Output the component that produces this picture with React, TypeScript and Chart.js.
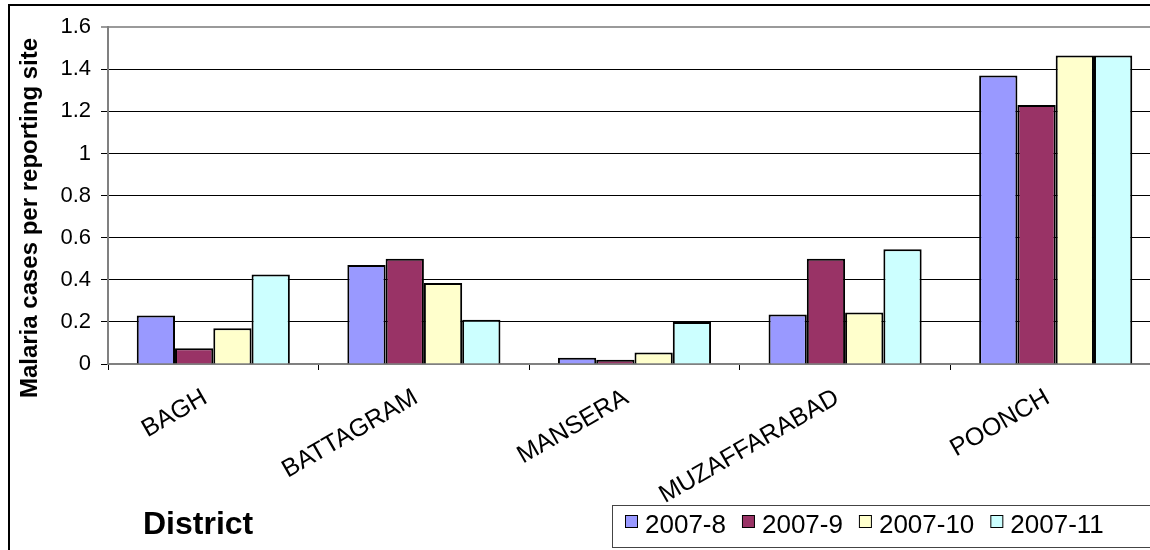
import React, { useEffect, useRef } from "react";
import { Chart, registerables } from "chart.js";

Chart.register(...registerables);

const districts = ["BAGH", "BATTAGRAM", "MANSERA", "MUZAFFARABAD", "POONCH"];
const periods = ["2007-8", "2007-9", "2007-10", "2007-11"];
const values2007_8 = [0.23, 0.47, 0.03, 0.235, 1.37];
const values2007_9 = [0.075, 0.5, 0.02, 0.5, 1.23];
const values2007_10 = [0.17, 0.385, 0.055, 0.245, 1.465];
const values2007_11 = [0.425, 0.21, 0.2, 0.545, 1.465];
const seriesValues = [values2007_8, values2007_9, values2007_10, values2007_11];
const seriesColors = ["#9999FF", "#993366", "#FFFFCC", "#CCFFFF"];
const yMin = 0;
const yMax = 1.6;
const yStep = 0.2;
const yTitle = "Malaria cases per reporting site";
const xTitle = "District";

const FONT = '"Liberation Sans", Arial, sans-serif';

const decorPlugin = {
  id: "decor",
  afterDraw(chart: any) {
    const ctx = chart.ctx as CanvasRenderingContext2D;
    ctx.save();
    // outer chart border
    ctx.strokeStyle = "#000";
    ctx.lineWidth = 2;
    ctx.strokeRect(1, 1, chart.width + 20, chart.height + 20);

    // y-axis title
    ctx.save();
    ctx.fillStyle = "#000";
    ctx.font = `bold 24px ${FONT}`;
    ctx.translate(29, 214);
    ctx.rotate(-Math.PI / 2);
    ctx.textAlign = "center";
    ctx.textBaseline = "alphabetic";
    ctx.fillText(yTitle, 0, 0);
    ctx.restore();

    // x-axis title
    ctx.fillStyle = "#000";
    ctx.font = `bold 32px ${FONT}`;
    ctx.textAlign = "left";
    ctx.textBaseline = "alphabetic";
    ctx.fillText(xTitle, 135, 530);

    // legend box
    ctx.strokeStyle = "#444";
    ctx.lineWidth = 1;
    ctx.fillStyle = "#fff";
    ctx.fillRect(604.5, 501.5, 600, 42);
    ctx.strokeRect(604.5, 501.5, 600, 42);

    ctx.font = `26px ${FONT}`;
    let x = 617;
    chart.data.datasets.forEach((ds: any) => {
      ctx.fillStyle = ds.backgroundColor;
      ctx.fillRect(x + 0.5, 511.5, 12, 12);
      ctx.strokeStyle = "#000";
      ctx.lineWidth = 1;
      ctx.strokeRect(x + 0.5, 511.5, 12, 12);
      ctx.fillStyle = "#000";
      ctx.fillText(ds.label, x + 20, 529);
      x += 20 + ctx.measureText(ds.label).width + 16;
    });
    ctx.restore();
  },
};

export default function App() {
  const canvasRef = useRef<HTMLCanvasElement | null>(null);

  useEffect(() => {
    const canvas = canvasRef.current;
    if (!canvas) return;
    const chart = new Chart(canvas, {
      type: "bar",
      data: {
        labels: districts,
        datasets: periods.map((p, i) => ({
          label: p,
          data: seriesValues[i],
          backgroundColor: seriesColors[i],
          borderColor: "#000",
          borderWidth: 2,
          categoryPercentage: 0.727,
          barPercentage: 1.0,
        })),
      },
      options: {
        responsive: false,
        maintainAspectRatio: false,
        animation: false,
        devicePixelRatio: 1,
        layout: { padding: { top: 20, right: 17, left: 0, bottom: 0 } },
        plugins: {
          legend: { display: false },
          tooltip: { enabled: false },
          title: { display: false },
        },
        scales: {
          x: {
            grid: {
              offset: true,
              drawOnChartArea: false,
              drawTicks: true,
              tickLength: 6,
              color: "#000",
            },
            border: { display: true, color: "#808080", width: 2 },
            ticks: {
              color: "#000",
              font: { family: FONT, size: 25 },
              maxRotation: 30,
              minRotation: 30,
              padding: 13,
              labelOffset: -8,
              autoSkip: false,
            },
            afterFit: (scale: any) => {
              scale.height = 186;
            },
          },
          y: {
            min: yMin,
            max: yMax,
            grid: {
              color: (c: any) =>
                c.tick && c.tick.value > yMax - 1e-6 ? "#9a9a9a" : "#000",
              lineWidth: (c: any) =>
                c.tick && c.tick.value > yMax - 1e-6 ? 2 : 1,
              tickLength: 7,
              drawTicks: true,
            },
            border: { display: true, color: "#808080", width: 2 },
            ticks: {
              stepSize: yStep,
              color: "#000",
              font: { family: FONT, size: 22 },
              padding: 10,
              callback: (v: any) => String(Number(Number(v).toFixed(1))),
            },
            afterFit: (scale: any) => {
              scale.width = 100;
            },
          },
        },
      },
      plugins: [decorPlugin],
    });
    return () => chart.destroy();
  }, []);

  return (
    <div
      style={{
        position: "absolute",
        left: 0,
        top: 0,
        width: 1150,
        height: 550,
        overflow: "hidden",
        background: "#fff",
      }}
    >
      <canvas
        ref={canvasRef}
        width={1170}
        height={546}
        style={{
          position: "absolute",
          left: 8,
          top: 4,
          width: 1170,
          height: 546,
          display: "block",
        }}
      />
    </div>
  );
}
